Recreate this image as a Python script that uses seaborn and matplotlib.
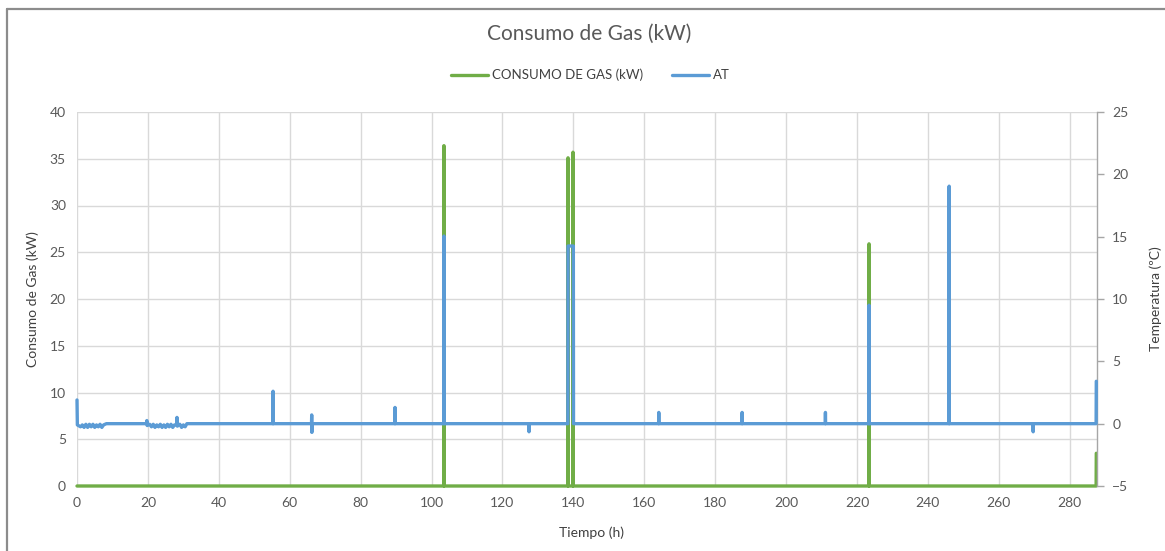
import matplotlib
matplotlib.use("Agg")
import matplotlib.pyplot as plt
from matplotlib.lines import Line2D
import seaborn as sns
import pandas as pd

# Gas consumption (kW) over time (h)
gas_time = [0, 103.45, 103.5, 103.55, 138.45, 138.5, 138.55, 139.85, 139.9, 139.95,
            223.35, 223.4, 223.45, 287.45, 287.5]
gas_kw = [0, 0, 36.4, 0, 0, 35.1, 0, 0, 35.7, 0,
          0, 25.9, 0, 0, 3.5]

# AT temperature (ºC) over time (h)
at_time = [0, 0.1, 1, 1.5, 2, 2.5, 3, 3.5, 4, 4.5, 5, 5.5, 6, 6.5, 7, 7.5, 8.3,
           19.6, 19.7, 19.8, 20.5, 21, 21.5, 22, 22.5, 23, 23.5, 24, 24.5, 25, 25.5,
           26, 26.5, 27, 27.5, 28.1, 28.2, 28.3, 29, 29.5, 30, 30.5, 31,
           55.25, 55.3, 55.35, 66.15, 66.2, 66.25, 66.3, 89.65, 89.7, 89.75,
           103.45, 103.5, 103.55, 127.45, 127.5, 127.55,
           138.45, 138.5, 140.0, 140.05, 164.05, 164.1, 164.15,
           187.55, 187.6, 187.65, 211.05, 211.1, 211.15,
           223.35, 223.4, 223.45, 245.95, 246.0, 246.05,
           269.65, 269.7, 269.75, 287.45, 287.5]
at_c = [1.9, -0.1, -0.25, -0.1, -0.3, -0.05, -0.3, -0.05, -0.25, -0.05, -0.3, -0.1, -0.25, -0.05, -0.3, -0.1, 0.0,
        0.0, 0.25, -0.15, -0.05, -0.25, -0.05, -0.3, -0.1, -0.25, -0.05, -0.3, -0.1, -0.3, -0.05,
        -0.25, -0.05, -0.3, -0.1, -0.1, 0.5, -0.2, -0.05, -0.3, -0.1, -0.25, 0.0,
        0.0, 2.6, 0.0, 0.0, 0.7, -0.7, 0.0, 0.0, 1.3, 0.0,
        0.0, 15.05, 0.0, 0.0, -0.65, 0.0,
        0.0, 14.25, 14.25, 0.0, 0.0, 0.9, 0.0,
        0.0, 0.9, 0.0, 0.0, 0.9, 0.0,
        0.0, 9.5, 0.0, 0.0, 19.05, 0.0,
        0.0, -0.65, 0.0, 0.0, 3.4]

x_ticks = list(range(0, 281, 20))
gas_ticks = list(range(0, 41, 5))
temp_ticks = list(range(-5, 26, 5))

GREEN = "#70AD47"
BLUE = "#5B9BD5"
TEXT = "#595959"
GRID = "#D9D9D9"

sns.set_theme(style="white")
plt.rcParams["font.family"] = ["Lato", "DejaVu Sans"]

gas_df = pd.DataFrame({"Tiempo (h)": gas_time, "Gas": gas_kw})
at_df = pd.DataFrame({"Tiempo (h)": at_time, "AT": at_c})

fig = plt.figure(figsize=(11.65, 5.51), dpi=100)
ax = fig.add_axes([77 / 1165, 65 / 551, 1020 / 1165, 374 / 551])
ax2 = ax.twinx()

sns.lineplot(data=gas_df, x="Tiempo (h)", y="Gas", ax=ax, color=GREEN,
             linewidth=2.4, estimator=None, sort=False, clip_on=False, zorder=3)
sns.lineplot(data=at_df, x="Tiempo (h)", y="AT", ax=ax2, color=BLUE,
             linewidth=2.4, estimator=None, sort=False, clip_on=False, zorder=3)

ax.set_xlim(0, 287.7)
ax.set_ylim(0, 40)
ax2.set_ylim(-5, 25)
ax.set_xticks(x_ticks)
ax.set_yticks(gas_ticks)
ax2.set_yticks(temp_ticks)

ax.grid(True, color=GRID, linewidth=1.0)
ax.set_axisbelow(True)

for sp in ["top", "left", "right", "bottom"]:
    ax.spines[sp].set_visible(False)
for sp in ["top", "left", "bottom"]:
    ax2.spines[sp].set_visible(False)
ax2.spines["right"].set_color("#A6A6A6")
ax2.spines["right"].set_linewidth(1.0)

ax.tick_params(axis="both", length=0, labelsize=10, labelcolor=TEXT, pad=8)
ax2.tick_params(axis="y", length=5, width=1, color="#A6A6A6", direction="out",
                labelsize=10, labelcolor=TEXT, pad=6)

ax.set_xlabel("Tiempo (h)", fontsize=10, color="#404040")
ax.xaxis.set_label_coords(0.504, -0.108)
ax.set_ylabel("Consumo de Gas (kW)", fontsize=10, color="#404040")
ax.yaxis.set_label_coords(-0.037, 0.5)
ax2.set_ylabel("Temperatura (ºC)", fontsize=10, color="#404040", rotation=90)
ax2.yaxis.set_label_coords(1.051, 0.5)

fig.text(0.506, 0.938, "Consumo de Gas (kW)", ha="center", va="center",
         fontsize=15, color=TEXT)

handles = [Line2D([], [], color=GREEN, linewidth=2.4),
           Line2D([], [], color=BLUE, linewidth=2.4)]
fig.legend(handles, ["CONSUMO DE GAS (kW)", "AT"], loc="center",
           bbox_to_anchor=(0.507, 0.864), ncol=2, frameon=False, fontsize=9.5,
           handlelength=2.8, handletextpad=0.3, columnspacing=2.2,
           labelcolor="#404040")

# chart-area border (left and top edges)
fig.add_artist(Line2D([6.5 / 1165, 6.5 / 1165], [0, 1 - 9 / 551],
                      transform=fig.transFigure, color="#8C8C8C", linewidth=1.6))
fig.add_artist(Line2D([6.5 / 1165, 1], [1 - 9 / 551, 1 - 9 / 551],
                      transform=fig.transFigure, color="#8C8C8C", linewidth=1.6))

fig.savefig("out.png", dpi=100, facecolor="white")
